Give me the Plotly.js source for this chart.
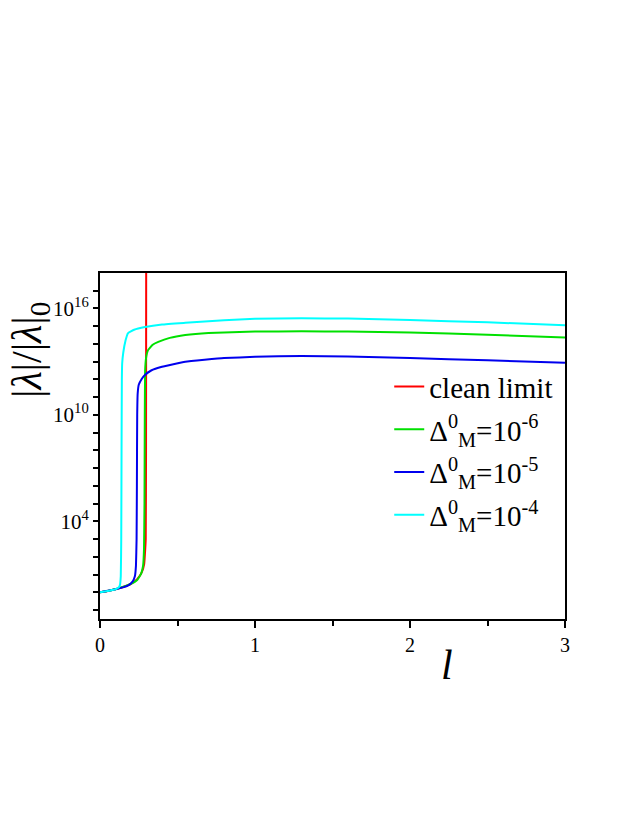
<!DOCTYPE html>
<html>
<head>
<meta charset="utf-8">
<script src="https://cdn.plot.ly/plotly-3.0.1.min.js"></script>
<style>html,body{margin:0;padding:0;background:#fff;}#chart{width:637px;height:824px;}</style>
</head>
<body>
<div id="chart"></div>
<script>
// l values and |λ|/|λ|0 values for each curve
const cleanL = [0, 0.05, 0.1, 0.15, 0.2, 0.24, 0.27, 0.285, 0.292, 0.295, 0.297, 0.298];
const cleanV = [1, 1.2, 1.5, 2.0, 3.0, 5.6, 14, 40, 300, 1e3, 1e8, 1e19];

const d6L = [0, 0.1, 0.2, 0.24, 0.265, 0.278, 0.284, 0.287, 0.289, 0.291, 0.297, 0.31, 0.34, 0.376, 0.45, 0.55, 0.7, 1.0, 1.3, 1.6, 2.0, 2.5, 3.0];
const d6V = [1, 1.5, 3.0, 5, 11, 32, 300, 1e5, 1e10, 3e12, 1.6e13, 4.5e13, 9e13, 1.3e14, 2.2e14, 3.2e14, 4.2e14, 5e14, 5.2e14, 5e14, 4.5e14, 3.3e14, 2.35e14];

const d5L = [0, 0.1, 0.18, 0.21, 0.225, 0.232, 0.236, 0.238, 0.24, 0.243, 0.25, 0.27, 0.29, 0.33, 0.4, 0.55, 0.8, 1.0, 1.3, 1.6, 2.0, 2.5, 3.0];
const d5V = [1, 1.5, 2.4, 4, 8, 32, 1e3, 1e6, 1e10, 1.6e11, 5e11, 1.1e12, 1.8e12, 3.2e12, 5.2e12, 1e13, 1.6e13, 1.9e13, 2.1e13, 2e13, 1.6e13, 1.2e13, 8.7e12];

const d4L = [0, 0.06, 0.1, 0.118, 0.128, 0.134, 0.137, 0.139, 0.141, 0.143, 0.15, 0.165, 0.18, 0.22, 0.29, 0.4, 0.55, 0.8, 1.0, 1.3, 1.6, 2.0, 2.5, 3.0];
const d4V = [1, 1.25, 1.5, 1.8, 2.5, 8, 1e3, 1e8, 1e12, 8e12, 3.2e13, 1.6e14, 4e14, 6.3e14, 9e14, 1.25e15, 1.55e15, 2.2e15, 2.6e15, 2.8e15, 2.7e15, 2.25e15, 1.65e15, 1.15e15];

const yTickVals = [1e-1, 1e0, 1e1, 1e2, 1e3, 1e4, 1e5, 1e6, 1e7, 1e8, 1e9, 1e10, 1e11, 1e12, 1e13, 1e14, 1e15, 1e16, 1e17];
const yTickText = ['', '', '', '', '', '10<sup>4</sup>', '', '', '', '', '', '10<sup>10</sup>', '', '', '', '', '', '10<sup>16</sup>', ''];
const xTickVals = [0, 1, 2, 3];
const xTickText = ['0', '1', '2', '3'];

const seriesNames = ['clean limit', 'Δ<sup>0</sup><sub>M</sub>=10<sup>-6</sup>', 'Δ<sup>0</sup><sub>M</sub>=10<sup>-5</sup>', 'Δ<sup>0</sup><sub>M</sub>=10<sup>-4</sup>'];
const colors = ['#ff0000', '#00e000', '#0000ee', '#00ffff'];

const serif = 'Liberation Serif, serif';
const xs = [cleanL, d6L, d5L, d4L];
const ys = [cleanV, d6V, d5V, d4V];
const traces = xs.map((x, i) => ({
  x: x, y: ys[i], type: 'scatter', mode: 'lines', name: seriesNames[i],
  legendgroup: 'g' + i,
  line: {color: colors[i], width: 2, shape: 'spline', smoothing: 0.3}
}));

const layout = {
  width: 637, height: 824,
  margin: {l: 100, r: 72, t: 273, b: 205},
  paper_bgcolor: '#fff', plot_bgcolor: '#fff',
  font: {family: serif, color: '#000'},
  showlegend: true,
  legend: {x: 0.622, y: 0.745, xanchor: 'left', yanchor: 'top', bgcolor: 'rgba(0,0,0,0)',
           font: {family: serif, size: 29, color: '#000'}, tracegroupgap: 2},
  xaxis: {
    range: [0, 3], tickvals: xTickVals, ticktext: xTickText,
    ticks: 'outside', ticklen: 7, tickwidth: 2, tickcolor: '#000',
    minor: {tickvals: [0.5, 1.5, 2.5], ticks: 'outside', ticklen: 5, tickwidth: 2, tickcolor: '#000'},
    showline: true, linewidth: 2, linecolor: '#000', mirror: true,
    showgrid: false, zeroline: false,
    tickfont: {family: serif, size: 20, color: '#000'}
  },
  yaxis: {
    type: 'log', range: [-1.5, 18],
    tickvals: yTickVals, ticktext: yTickText,
    ticks: 'outside', ticklen: 5, tickwidth: 2, tickcolor: '#000',
    showline: true, linewidth: 2, linecolor: '#000', mirror: true,
    showgrid: false, zeroline: false,
    tickfont: {family: serif, size: 21, color: '#000'}
  },
  annotations: [
    {text: '<i>l</i>', xref: 'paper', yref: 'paper', x: (447 - 100) / 465, y: -0.06,
     xanchor: 'center', yanchor: 'top', showarrow: false,
     font: {family: serif, size: 42, color: '#000'}},
    {text: '|<i>λ</i>|/|<i>λ</i>|<sub>0</sub>', xref: 'paper', yref: 'paper',
     x: (30 - 100) / 465, y: (619 - 350) / 346, xanchor: 'center', yanchor: 'middle',
     textangle: -90, showarrow: false,
     font: {family: serif, size: 42, color: '#000'}}
  ]
};

Plotly.newPlot('chart', traces, layout, {displayModeBar: false, staticPlot: true});
</script>
</body>
</html>
